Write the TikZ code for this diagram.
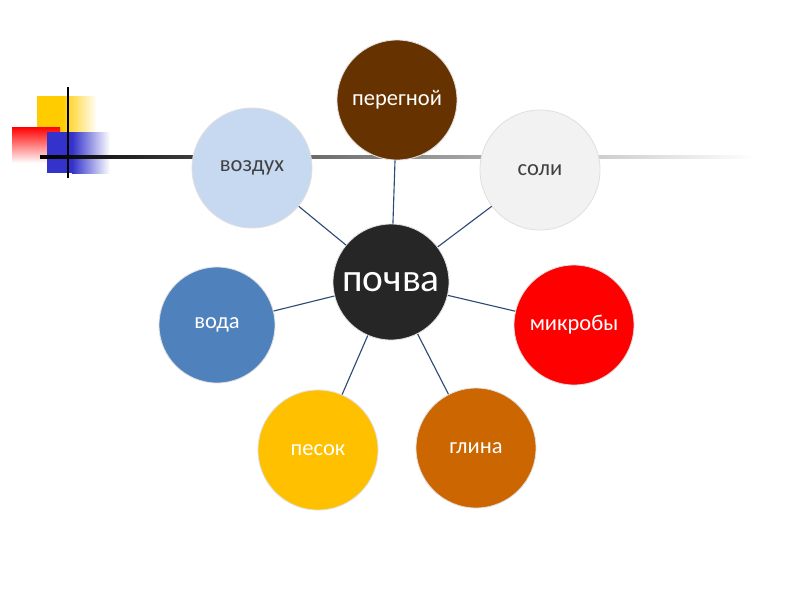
\documentclass[tikz,border=0pt]{standalone}
\usepackage{fontspec}
\setmainfont{Carlito}
\begin{document}
\begin{tikzpicture}[x=0.025cm,y=-0.025cm,
  bub/.style={circle,minimum size=120*0.025cm,inner sep=0pt,draw=black!12,line width=0.6pt,font=\fontsize{16}{18}\selectfont,text=white},
  link/.style={draw={rgb,255:red,45;green,75;blue,115},line width=0.8pt}]
\useasboundingbox (0,0) rectangle (800,600);
% decoration
\definecolor{decyel}{RGB}{255,204,0}
\definecolor{decblu}{RGB}{51,51,204}
\shade[left color=decyel,right color=white] (62,96) rectangle (97,133);
\fill[decyel] (37,96) rectangle (62,133);
\shade[shading angle=-45,top color=red,bottom color=white] (12,127) rectangle (60,163);
\shade[left color=decblu,right color=white] (72,132) rectangle (110,173);
\fill[decblu] (47,132) rectangle (72.5,173);
\draw[line width=1.6pt,black] (68,87) -- (68,178);
\shade[left color=black,right color=white,middle color=black!45] (40,155.8) rectangle (755,158.2);
% nodes
\node[bub,fill={rgb,255:red,102;green,51;blue,0}] (per) at (397,100) {перегной};
\node[bub,fill={rgb,255:red,242;green,242;blue,242},text=black!75] (sol) at (540,170) {соли};
\node[bub,fill={rgb,255:red,198;green,217;blue,241},text=black!75] (voz) at (252,168) {воздух};
\node[bub,fill={rgb,255:red,79;green,129;blue,189},minimum size=116*0.025cm] (vod) at (217,325) {вода};
\node[bub,fill={rgb,255:red,255;green,0;blue,0}] (mik) at (574,325) {микробы};
\node[bub,fill={rgb,255:red,255;green,192;blue,0}] (pes) at (318,450) {песок};
\node[bub,fill={rgb,255:red,204;green,102;blue,0}] (gli) at (476,448) {глина};
\node[bub,fill={rgb,255:red,38;green,38;blue,38},minimum size=116*0.025cm,font=\fontsize{28}{32}\selectfont] (poc) at (391,282) {почва};
% links
\foreach \n in {per,sol,voz,vod,mik,pes,gli}
  \draw[link] (poc) -- (\n);
\end{tikzpicture}
\end{document}
